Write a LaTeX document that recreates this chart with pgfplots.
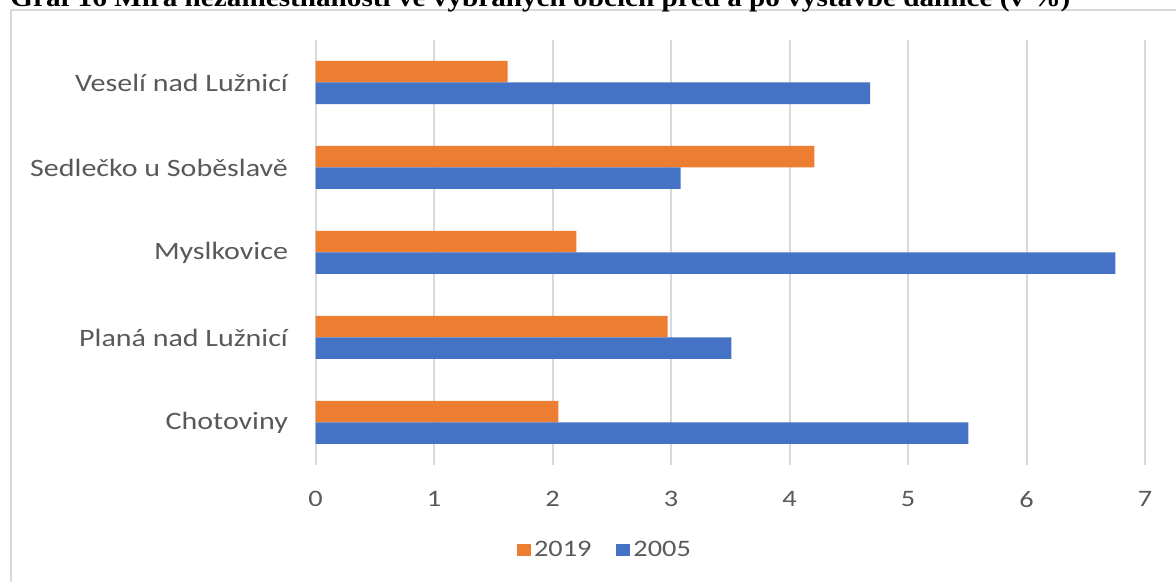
\documentclass[border=0pt]{standalone}
\usepackage{fontspec}
\usepackage{graphicx}
\usepackage{pgfplots}
\pgfplotsset{compat=1.18}
\setmainfont{Carlito}
\newfontfamily\chartfont[FakeStretch=1.2]{Carlito}
\newfontfamily\titlefont{Liberation Serif}
\definecolor{orangebar}{HTML}{ED7D31}
\definecolor{bluebar}{HTML}{4472C4}
\definecolor{textgray}{HTML}{595959}
\definecolor{gridgray}{HTML}{D9D9D9}
\begin{document}
\begin{tikzpicture}
\useasboundingbox (0,0) rectangle (588pt,291pt);
\clip (0,0) rectangle (588pt,291pt);
% frame
\draw[gridgray, line width=1pt] (5.5pt,-10pt) -- (5.5pt,286pt) -- (600pt,286pt);
% title (cut off at the top in the reference)
\node[anchor=base west, inner sep=0pt, font=\titlefont\bfseries\fontsize{13}{15}\selectfont] at (5pt,287.9pt)
  {\resizebox{530pt}{\height}{Graf 16 Míra nezaměstnanosti ve vybraných obcích před a po výstavbě dálnice (v \%)}};
\begin{axis}[
  at={(157.8pt,58.5pt)}, anchor=south west,
  scale only axis, width=414.7pt, height=212.5pt,
  xmin=0, xmax=7, ymin=-0.5, ymax=4.5,
  xtick={0,1,...,7},
  ytick={0,1,2,3,4},
  yticklabels={Chotoviny, Planá nad Lužnicí, Myslkovice, Sedlečko u Soběslavě, Veselí nad Lužnicí},
  axis line style={draw=none},
  major tick length=0pt,
  tick style={draw=none},
  xmajorgrids,
  grid style={draw=gridgray, line width=1pt},
  /pgf/number format/assume math mode=true,
  xticklabel style={font=\chartfont\fontsize{11.8}{13}\selectfont, text=textgray, yshift=-9.6pt},
  yticklabel style={font=\chartfont\fontsize{12.5}{14}\selectfont, text=textgray, xshift=-10.3pt},
  xbar, bar width=10.75pt,
  legend columns=2,
  legend style={at={(0.3495,-0.2)}, anchor=center, draw=none, fill=none,
    font=\chartfont\fontsize{11.8}{13}\selectfont, text=textgray,
    /tikz/every even column/.append style={column sep=11pt},
    nodes={inner sep=1.5pt}},
  legend image code/.code={\fill[#1] (0pt,-3pt) rectangle (7pt,3pt);},
]
\addplot[fill=orangebar, draw=none, bar shift=5.375pt] coordinates {
  (2.05,0) (2.97,1) (2.20,2) (4.21,3) (1.62,4)};
\addplot[fill=bluebar, draw=none, bar shift=-5.375pt] coordinates {
  (5.51,0) (3.51,1) (6.75,2) (3.08,3) (4.68,4)};
\legend{2019, 2005}
\end{axis}
\end{tikzpicture}
\end{document}
